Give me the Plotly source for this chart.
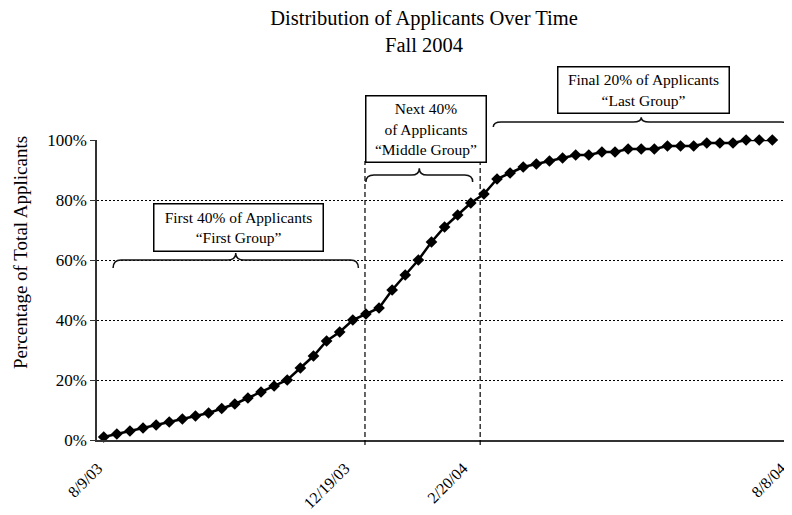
import plotly.graph_objects as go
import pandas as pd

# ---------------- data ----------------
title_lines = ["Distribution of Applicants Over Time", "Fall 2004"]
y_axis_title = "Percentage of Total Applicants"

start_date = "2003-08-09"
n_points = 52
dates = pd.date_range(start_date, periods=n_points, freq="7D")

cumulative_pct = [1, 2, 3, 4, 5, 6, 7, 8, 9, 10.5, 12, 14, 16, 18, 20, 24, 28, 33, 36, 40, 42,
                  44, 50, 55, 60, 66, 71, 75, 79, 82,
                  87, 89, 91, 92, 93, 94, 95, 95, 96, 96, 97, 97, 97, 98, 98, 98, 99, 99, 99,
                  100, 100, 100]

tick_dates = ["2003-08-09", "2003-12-19", "2004-02-20", "2004-08-08"]
tick_labels = ["8/9/03", "12/19/03", "2/20/04", "8/8/04"]

y_tick_vals = [0, 20, 40, 60, 80, 100]
y_tick_labels = ["0%", "20%", "40%", "60%", "80%", "100%"]

divider_dates = ["2003-12-26 12:00", "2004-02-26"]

group_labels = [
    "First 40% of Applicants<br>\u201cFirst Group\u201d",
    "Next 40%<br>of Applicants<br>\u201cMiddle Group\u201d",
    "Final 20% of Applicants<br>\u201cLast Group\u201d",
]
# brace spans (dates) and brace levels (percent of y axis: end, flat, tip)
brace_spans = [("2003-08-14", "2003-12-23"), ("2003-12-27", "2004-02-22"), ("2004-03-04", "2004-08-09")]
brace_levels = [(57.3, 60.0, 62.3), (86.0, 88.3, 90.6), (104.3, 106.0, 107.6)]
# label box anchors (date, percent); the middle box hangs from the first divider
box_centers = [("2003-10-20", 70.7), (divider_dates[0], 103.7), ("2004-05-23", 116.5)]
box_xanchor = ["center", "left", "center"]

# ---------------- layout geometry ----------------
# the page body has an 8px margin, so the figure is offset by 8px
OFF = 8
W, H = 792 - OFF, 515 - OFF
ML, MR, MT, MB = 97 - OFF, 0, 140 - OFF, 75
PLOT_W = W - ML - MR
PLOT_H = H - MT - MB
x_range = [pd.Timestamp("2003-08-05 10:00"), pd.Timestamp("2004-08-10 12:00")]
FONT = "Liberation Serif, Times New Roman, serif"


def xp(d):
    t = pd.Timestamp(d)
    return (t - x_range[0]) / (x_range[1] - x_range[0])


def yp(v):
    return v / 100.0


fig = go.Figure()
fig.add_trace(go.Scatter(
    x=dates, y=cumulative_pct, mode="lines+markers",
    line=dict(color="black", width=2.5),
    marker=dict(symbol="diamond", size=9, color="black"),
    cliponaxis=False, showlegend=False, hoverinfo="skip",
))

shapes = []
for d in divider_dates:
    shapes.append(dict(type="line", xref="paper", yref="paper",
                       x0=xp(d), x1=xp(d), y0=-0.017, y1=0.93,
                       line=dict(color="black", width=1.2, dash="5px,3px")))

r = 8.0 / PLOT_W
for (d0, d1), (ye, yf, yt) in zip(brace_spans, brace_levels):
    x0, x1 = xp(d0), xp(d1)
    xm = (x0 + x1) / 2
    ye, yf, yt = yp(ye), yp(yf), yp(yt)
    path = (f"M {x0},{ye} Q {x0},{yf} {x0 + r},{yf} L {xm - r},{yf} "
            f"Q {xm},{yf} {xm},{yt} Q {xm},{yf} {xm + r},{yf} "
            f"L {x1 - r},{yf} Q {x1},{yf} {x1},{ye}")
    shapes.append(dict(type="path", xref="paper", yref="paper", path=path,
                       line=dict(color="#111", width=1.5)))

box_sizes = [(166, 44), (117, 63), (168, 43)]
box_fonts = [15.5, 15.5, 15.5]
annotations = []
for txt, (cd, cy), (bw, bh), fs, xa in zip(group_labels, box_centers, box_sizes, box_fonts, box_xanchor):
    annotations.append(dict(
        text=txt, xref="paper", yref="paper", x=xp(cd), y=yp(cy),
        xanchor=xa, yanchor="middle", showarrow=False,
        font=dict(family=FONT, size=fs, color="black"),
        bordercolor="black", borderwidth=1.5, borderpad=1, bgcolor="white",
        width=bw, height=bh, align="center",
    ))

annotations.append(dict(
    text=y_axis_title, xref="paper", yref="paper",
    x=(20 - 97) / PLOT_W, y=(440 - 253) / PLOT_H,
    xanchor="center", yanchor="middle", textangle=-90, showarrow=False,
    font=dict(family=FONT, size=19, color="black"),
))

fig.update_layout(
    width=W, height=H,
    margin=dict(l=ML, r=MR, t=MT, b=MB, pad=0),
    paper_bgcolor="white", plot_bgcolor="white",
    font=dict(family=FONT, color="black"),
    title=dict(text="<br>".join(title_lines), x=(424 - OFF) / W, xanchor="center",
               y=1 - 17.0 / H, yanchor="top", yref="container",
               font=dict(family=FONT, size=20.5, color="black")),
    shapes=shapes, annotations=annotations,
    xaxis=dict(type="date", range=x_range, tickvals=[pd.Timestamp(d) for d in tick_dates],
               ticktext=tick_labels, tickangle=-45, showgrid=False, zeroline=False,
               showline=True, linecolor="#333", linewidth=1.5, ticks="",
               tickfont=dict(family=FONT, size=16, color="black"),
               ticklabelstandoff=11, ticklabelshift=-6, ticklabeloverflow="allow"),
    yaxis=dict(range=[0, 100], tickvals=y_tick_vals, ticktext=y_tick_labels,
               showgrid=True, gridcolor="black", gridwidth=1, griddash="2px,2px",
               zeroline=False, showline=True, linecolor="#333", linewidth=1.5,
               ticks="outside", ticklen=5, tickcolor="#333",
               tickfont=dict(family=FONT, size=17, color="black")),
)

fig.write_html("out.html")
